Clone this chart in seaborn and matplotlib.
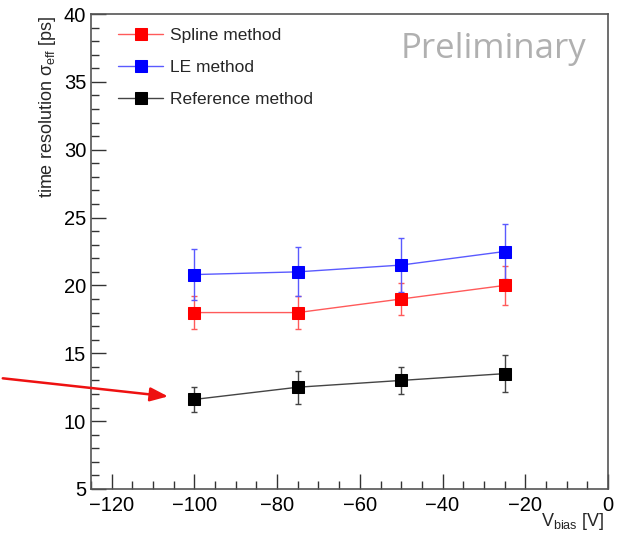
import numpy as np
import pandas as pd
import matplotlib
matplotlib.use("Agg")
import matplotlib.pyplot as plt
import seaborn as sns
from matplotlib.ticker import MultipleLocator

# ---- data ----
vbias = [-100, -75, -50, -25]
spline_vals = [18.0, 18.0, 19.0, 20.0]
spline_err = [1.2, 1.2, 1.2, 1.45]
le_vals = [20.8, 21.0, 21.5, 22.5]
le_err = [1.9, 1.8, 2.0, 2.0]
ref_vals = [11.6, 12.5, 13.0, 13.5]
ref_err = [0.9, 1.2, 1.0, 1.35]
methods = ["Spline method", "LE method", "Reference method"]
colors = ["#ff0000", "#0000ff", "#000000"]
line_colors = ["#ff5a5a", "#5a5aff", "#444444"]

sns.set_theme(style="white")
plt.rcParams['font.family'] = ['Liberation Sans', 'DejaVu Sans']
plt.rcParams['mathtext.fontset'] = 'custom'
plt.rcParams['mathtext.rm'] = 'Liberation Sans'
plt.rcParams['mathtext.it'] = 'Liberation Sans'

fig = plt.figure(figsize=(6.29, 5.40), dpi=100)
ax = fig.add_axes([91/629, 1-489/540, (608-91)/629, (489-14)/540])

series = [(spline_vals, spline_err), (le_vals, le_err), (ref_vals, ref_err)]
frames = []
for m, (v, e) in zip(methods, series):
    frames.append(pd.DataFrame({"V": vbias, "sigma": v, "err": e, "method": m}))
df = pd.concat(frames, ignore_index=True)

for m, c, lc in zip(methods, colors, line_colors):
    sub = df[df["method"] == m]
    ax.errorbar(sub["V"], sub["sigma"], yerr=sub["err"], fmt="none",
                ecolor=lc, elinewidth=1, capsize=2.5, capthick=1, zorder=2)
    sns.lineplot(data=sub, x="V", y="sigma", color=lc, marker="s", markersize=9,
                 markeredgecolor=c, markerfacecolor=c, linewidth=1, label=m,
                 ax=ax, zorder=3, errorbar=None)

ax.set_xlim(-125, 0)
ax.set_ylim(5, 40)
ax.xaxis.set_major_locator(MultipleLocator(20))
ax.xaxis.set_minor_locator(MultipleLocator(5))
ax.yaxis.set_major_locator(MultipleLocator(5))
ax.yaxis.set_minor_locator(MultipleLocator(1))
ax.tick_params(which="both", direction="in", top=False, right=False,
               bottom=True, left=True, colors="#333333", labelcolor="black",
               labelsize=14.5)
ax.tick_params(which="major", length=11, width=1)
ax.tick_params(which="minor", length=6, width=1)
ax.tick_params(axis="x", pad=5)
ax.set_xticks([-120, -100, -80, -60, -40, -20, 0])
ax.set_xticklabels(["\u2212120", "\u2212100", "\u221280", "\u221260", "\u221240", "\u221220", "0"])
for s in ax.spines.values():
    s.set_color("#555555")
    s.set_linewidth(1.2)

ax.set_xlabel("")
ax.set_ylabel(r"time resolution $\sigma_{\rm eff}$ [ps]", fontsize=13)
ax.yaxis.set_label_coords(-0.064, 0.805)
fig.text(605/629, 1-521/540, r"V$_{\rm bias}$ [V]", ha="right", va="center", fontsize=13)

leg = ax.legend(loc="upper left", bbox_to_anchor=(0.022, 1.003), frameon=False,
                fontsize=12.5, handlelength=2.6, handletextpad=0.4,
                labelspacing=0.95, markerscale=1.0)

ax.text(0.957, 0.927, "Preliminary", transform=ax.transAxes, ha="right", va="center",
        fontsize=25, color="#b0b0b0", family=["Open Sans", "DejaVu Sans"])

ax.annotate("", xy=(-105.7, 11.8), xycoords="data",
            xytext=(0.0, 1-378/540), textcoords="figure fraction",
            arrowprops=dict(arrowstyle="-|>,head_length=0.9,head_width=0.35",
                            color="#ee1111", lw=1.8), annotation_clip=False)

fig.savefig("out.png", dpi=100)
